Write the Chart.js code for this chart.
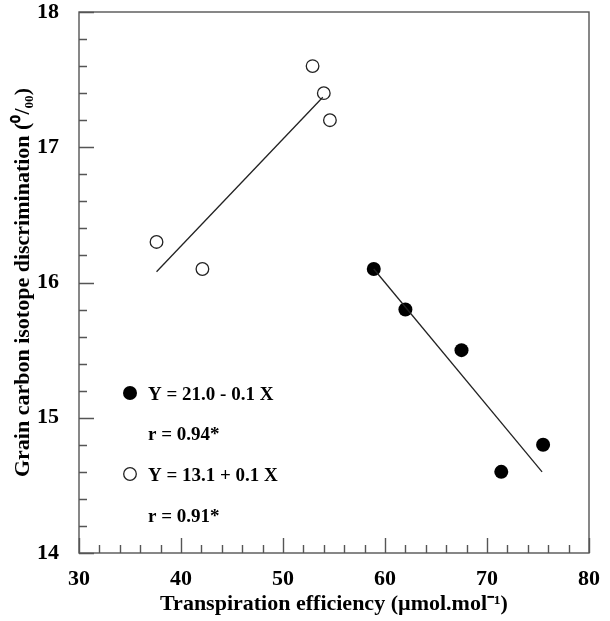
<!DOCTYPE html>
<html>
<head>
<meta charset="utf-8">
<script src="https://cdn.jsdelivr.net/npm/chart.js@4.4.0/dist/chart.umd.min.js"></script>
<style>
  html, body { margin: 0; padding: 0; background: #fff; }
  #wrap { width: 610px; height: 621px; }
</style>
</head>
<body>
<div id="wrap"><canvas id="isotopeChart" width="610" height="621"></canvas></div>
<script>
// open circles (upper group)
const xOpen = [37.6, 42.1, 52.9, 54.0, 54.6];
const yOpen = [16.3, 16.1, 17.6, 17.4, 17.2];
// filled circles (lower group)
const xFilled = [58.9, 62.0, 67.5, 71.4, 75.5];
const yFilled = [16.1, 15.8, 15.5, 14.6, 14.8];
// fitted line end points
const fitOpenX = [37.6, 53.9];
const fitOpenY = [16.08, 17.37];
const fitFilledX = [58.9, 75.4];
const fitFilledY = [16.1, 14.6];
// legend text
const legendFilled = ['Y = 21.0 - 0.1 X', 'r = 0.94*'];
const legendOpen = ['Y = 13.1 + 0.1 X', 'r = 0.91*'];

const xTitle = 'Transpiration efficiency (\u00b5mol.mol\u207b\u00b9)';
const yTitle = 'Grain carbon isotope discrimination (\u2070/\u2080\u2080)';

const serif = '"Liberation Serif", "Times New Roman", serif';
const axisColor = '#555';

const toPoints = (xs, ys) => xs.map((x, i) => ({ x: x, y: ys[i] }));

// inward ticks + frame + legend drawn on top
const framePlugin = {
  id: 'frame',
  afterDraw(chart) {
    const { ctx, chartArea: a, scales } = chart;
    ctx.save();
    ctx.strokeStyle = axisColor;
    ctx.lineWidth = 1.4;
    ctx.strokeRect(a.left, a.top, a.right - a.left, a.bottom - a.top);

    ctx.beginPath();
    for (let v = 30; v <= 80; v += 2) {
      const px = Math.round(scales.x.getPixelForValue(v)) + 0.5;
      const len = v % 10 === 0 ? 15 : 8;
      ctx.moveTo(px, a.bottom);
      ctx.lineTo(px, a.bottom - len);
    }
    for (let i = 0; i <= 20; i++) {
      const v = 14 + i * 0.2;
      const py = Math.round(scales.y.getPixelForValue(v)) + 0.5;
      const len = i % 5 === 0 ? 15 : 8;
      ctx.moveTo(a.left, py);
      ctx.lineTo(a.left + len, py);
    }
    ctx.stroke();

    // legend inside plot
    const lx = a.left + 51;
    const tx = a.left + 69;
    ctx.font = 'bold 19px ' + serif;
    ctx.fillStyle = '#000';
    ctx.textBaseline = 'middle';
    ctx.textAlign = 'left';

    ctx.beginPath();
    ctx.arc(lx, a.top + 381, 7, 0, Math.PI * 2);
    ctx.fill();
    ctx.fillText(legendFilled[0], tx, a.top + 383);
    ctx.fillText(legendFilled[1], tx, a.top + 423);

    ctx.beginPath();
    ctx.arc(lx, a.top + 462, 6.3, 0, Math.PI * 2);
    ctx.strokeStyle = '#222';
    ctx.lineWidth = 1.3;
    ctx.stroke();
    ctx.fillText(legendOpen[0], tx, a.top + 464);
    ctx.fillText(legendOpen[1], tx, a.top + 505);
    ctx.restore();
  }
};

new Chart(document.getElementById('isotopeChart'), {
  type: 'scatter',
  data: {
    datasets: [
      {
        label: 'fit open',
        type: 'line',
        data: toPoints(fitOpenX, fitOpenY),
        borderColor: '#222',
        borderWidth: 1.3,
        pointRadius: 0,
        fill: false
      },
      {
        label: 'fit filled',
        type: 'line',
        data: toPoints(fitFilledX, fitFilledY),
        borderColor: '#222',
        borderWidth: 1.3,
        pointRadius: 0,
        fill: false
      },
      {
        label: 'open',
        data: toPoints(xOpen, yOpen),
        pointRadius: 6.3,
        pointBackgroundColor: '#fff',
        pointBorderColor: '#222',
        pointBorderWidth: 1.3
      },
      {
        label: 'filled',
        data: toPoints(xFilled, yFilled),
        pointRadius: 7,
        pointBackgroundColor: '#000',
        pointBorderColor: '#000',
        pointBorderWidth: 0
      }
    ]
  },
  options: {
    responsive: false,
    animation: false,
    layout: { padding: { top: 12, right: 21, bottom: 3, left: 10 } },
    plugins: {
      legend: { display: false },
      tooltip: { enabled: false }
    },
    scales: {
      x: {
        type: 'linear',
        min: 30,
        max: 80,
        grid: { display: false },
        border: { display: false },
        afterFit(scale) {
          scale.height = 65;
          scale.paddingLeft = 0;
          scale.paddingRight = 0;
        },
        ticks: {
          stepSize: 10,
          padding: 5,
          color: '#000',
          font: { family: serif, size: 22, weight: 'bold' }
        },
        title: {
          display: true,
          text: xTitle,
          color: '#000',
          padding: { top: 1, bottom: 0 },
          font: { family: serif, size: 22, weight: 'bold' }
        }
      },
      y: {
        type: 'linear',
        min: 14,
        max: 18,
        grid: { display: false },
        border: { display: false },
        afterFit(scale) {
          scale.width = 69;
          scale.paddingTop = 0;
          scale.paddingBottom = 0;
        },
        ticks: {
          stepSize: 1,
          padding: 12,
          color: '#000',
          font: { family: serif, size: 22, weight: 'bold' }
        },
        title: {
          display: true,
          text: yTitle,
          color: '#000',
          padding: { top: 0, bottom: 8 },
          font: { family: serif, size: 22, weight: 'bold' }
        }
      }
    }
  },
  plugins: [framePlugin]
});
</script>
</body>
</html>
